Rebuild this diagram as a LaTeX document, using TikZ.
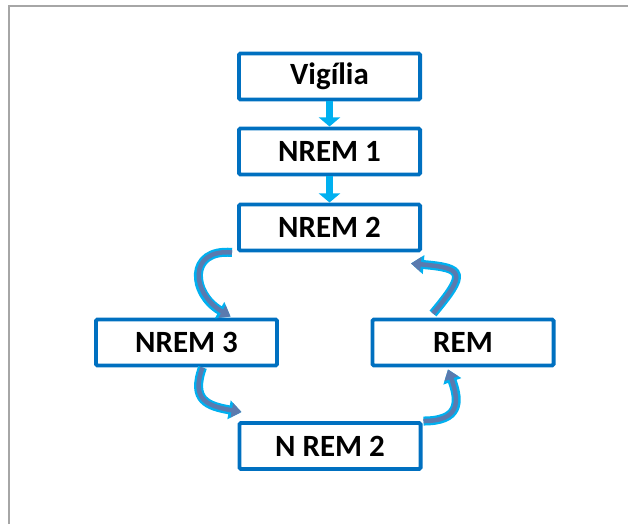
\documentclass[tikz,border=0pt]{standalone}
\usepackage{fontspec}
\setmainfont{Carlito}
\usepackage{tikz}
\usetikzlibrary{calc,arrows.meta}
\definecolor{boxblue}{HTML}{0070C0}
\definecolor{lightarrow}{HTML}{00B0F0}
\definecolor{arrowcore}{HTML}{5B7AAE}
\definecolor{framegray}{HTML}{A6A6A6}
\tikzset{stagebox/.style={draw=boxblue,line width=2.8pt,rounded corners=1pt,
    minimum width=4.525cm,minimum height=1.15cm,inner sep=0pt,
    font=\fontsize{22}{26}\selectfont\bfseries},
  downarrow/.style={draw=lightarrow,line width=5.5pt,-{Triangle[length=6.5pt,width=15pt]}},
  cyclearrow/.style={draw=arrowcore,line width=3.2pt,-{Triangle[length=7pt,width=10pt]},
    preaction={draw=lightarrow,line width=6.4pt,-{Triangle[length=9pt,width=13pt]}}}}

\begin{document}
\begin{tikzpicture}[x=0.025cm,y=0.025cm]
  \useasboundingbox (0,0) rectangle (628,524);
  % frame
  \draw[framegray,line width=1.4pt] (9,0) -- (9,518) -- (628,518);

  \node[stagebox] (vig)  at (329.5,447.5) {Vigília};
  \node[stagebox] (n1)   at (329.5,372.5) {NREM 1};
  \node[stagebox] (n2)   at (329.5,296.5) {NREM 2};
  \node[stagebox] (n3)   at (186.5,181.5) {NREM 3};
  \node[stagebox] (rem)  at (463,181.5)   {REM};
  \node[stagebox] (n2b)  at (330,78)      {N REM 2};

  \draw[downarrow] (vig) -- (n1);
  \draw[downarrow] (n1) -- (n2);

  % the cycle
  \draw[cyclearrow] ($(n2.south west)+(-5,0)$) to[out=175,in=150,looseness=1.8] ($(n3.north)+(44,1)$);
  \draw[cyclearrow] ($(n3.south)+(16,0)$) to[out=-110,in=170,looseness=1.5] ($(n2b.north west)+(4,9)$);
  \draw[cyclearrow] ($(n2b.north east)+(1,0)$) to[out=0,in=-70,looseness=1.6] ($(rem.south)+(-15,-2)$);
  \draw[cyclearrow] ($(rem.north)+(-30,4)$) to[out=50,in=-5,looseness=2.5] ($(n2.south east)+(-11,-11)$);
\end{tikzpicture}
\end{document}
